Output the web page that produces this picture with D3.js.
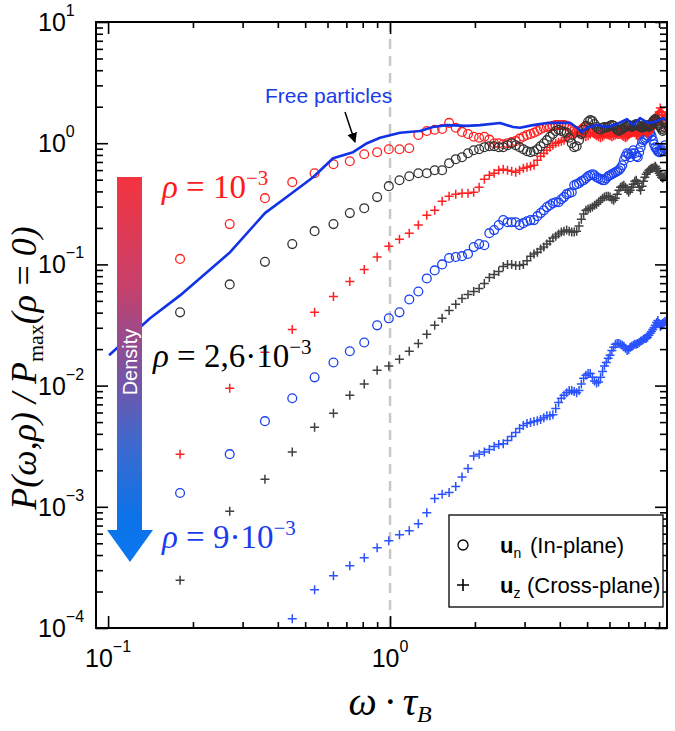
<!DOCTYPE html>
<html><head><meta charset="utf-8">
<script src="https://cdn.jsdelivr.net/npm/d3@7"></script>
<style>body{margin:0;background:#fff}</style>
</head><body>
<svg id="chart" width="675" height="731"></svg>
<script>
// ---------- data ----------
const omega = [0.18,0.27,0.36,0.45,0.54,0.63,0.72,0.81,0.90,0.99,1.08,1.17,1.26,1.35,1.44,1.53,1.62,1.71,1.80,1.89,1.98,2.07,2.16,2.25,2.34,2.43,2.52,2.61,2.70,2.79,2.88,2.97,3.06,3.15,3.24,3.33,3.42,3.51,3.60,3.69,3.78,3.87,3.96,4.05,4.14,4.23,4.32,4.41,4.50,4.59,4.68,4.77,4.86,4.95,5.04,5.13,5.22,5.31,5.40,5.49,5.58,5.67,5.76,5.85,5.94,6.03,6.12,6.21,6.30,6.39,6.48,6.57,6.66,6.75,6.84,6.93,7.02,7.11,7.20,7.29,7.38,7.47,7.56,7.65,7.74,7.83,7.92,8.01,8.10,8.19,8.28,8.37,8.46,8.55,8.64,8.73,8.82,8.91,9.00,9.09,9.18,9.27,9.36,9.45];

// rho = 1e-3, u_n (in-plane)
const redCircles = [0.111,0.215,0.352,0.477,0.565,0.671,0.710,0.811,0.843,0.892,
0.892,0.909,1.17,1.26,1.29,1.31,1.47,1.34,1.24,1.19,
1.13,1.11,1.13,1.07,1.00,1.00,0.981,1.00,1.02,1.04,
1.09,1.13,1.17,1.19,1.22,1.26,1.31,1.34,1.36,1.36,
1.39,1.41,1.41,1.41,1.41,1.39,1.36,1.31,1.26,1.24,
1.26,1.29,1.34,1.36,1.36,1.34,1.29,1.24,1.19,1.22,
1.24,1.26,1.24,1.22,1.19,1.22,1.24,1.26,1.24,1.22,
1.19,1.22,1.24,1.26,1.29,1.26,1.24,1.22,1.24,1.26,
1.29,1.26,1.24,1.26,1.29,1.31,1.34,1.31,1.29,1.26,
1.29,1.34,1.39,1.44,1.50,1.52,1.55,1.61,1.68,1.74,
1.68,1.58,1.52,1.47];
// rho = 2.6e-3, u_n
const blackCircles = [0.0402,0.0684,0.105,0.147,0.188,0.215,0.265,0.291,0.359,0.442,
0.495,0.534,0.565,0.565,0.598,0.598,0.684,0.738,0.766,0.827,
0.875,0.892,0.927,0.945,0.945,0.927,0.927,0.963,1.00,0.963,
0.927,0.892,0.859,0.843,0.859,0.892,0.945,1.00,1.06,1.13,
1.19,1.26,1.29,1.26,1.24,1.22,1.11,1.00,0.927,0.945,
1.06,1.19,1.29,1.39,1.50,1.55,1.52,1.44,1.36,1.31,
1.29,1.34,1.36,1.34,1.36,1.39,1.41,1.39,1.34,1.29,
1.26,1.29,1.31,1.34,1.36,1.39,1.41,1.39,1.36,1.39,
1.41,1.44,1.41,1.39,1.36,1.34,1.36,1.39,1.41,1.39,
1.36,1.39,1.44,1.50,1.55,1.58,1.52,1.47,1.41,1.36,
1.31,1.26,1.29,1.34];
// rho = 9e-3, u_n
const blueCircles = [0.00130,0.00272,0.00509,0.00787,0.0117,0.0155,0.0192,0.0227,0.0314,0.0359,
0.0402,0.0514,0.0598,0.0766,0.0892,0.100,0.113,0.115,0.117,0.122,
0.139,0.147,0.144,0.181,0.192,0.211,0.232,0.223,0.223,0.223,
0.211,0.219,0.227,0.232,0.232,0.250,0.265,0.280,0.297,0.308,
0.320,0.326,0.326,0.345,0.359,0.380,0.387,0.394,0.450,0.459,
0.468,0.486,0.495,0.514,0.534,0.544,0.555,0.544,0.524,0.514,
0.505,0.495,0.495,0.514,0.534,0.544,0.555,0.565,0.576,0.587,
0.598,0.622,0.658,0.724,0.781,0.827,0.811,0.766,0.827,0.875,
0.827,0.781,0.766,0.843,0.927,1.02,1.06,1.09,1.11,1.15,
1.22,1.22,1.15,1.06,0.981,0.927,0.892,0.859,0.843,0.843,
0.859,0.875,0.909,0.963];
// rho = 1e-3, u_z (cross-plane)
const redPlus = [0.00272,0.00952,0.0188,0.0291,0.0402,0.0544,0.0724,0.0909,0.115,0.141,
0.161,0.181,0.211,0.255,0.280,0.332,0.365,0.380,0.387,0.387,
0.394,0.434,0.505,0.544,0.565,0.598,0.610,0.598,0.587,0.576,
0.598,0.622,0.634,0.646,0.658,0.724,0.781,0.827,0.875,0.927,
0.963,1.00,1.02,1.04,1.06,1.11,1.15,1.17,1.19,1.22,
1.19,1.17,1.15,1.13,1.15,1.19,1.22,1.19,1.15,1.13,
1.11,1.13,1.17,1.19,1.17,1.15,1.13,1.15,1.17,1.19,
1.22,1.19,1.15,1.13,1.11,1.13,1.17,1.22,1.24,1.26,
1.22,1.17,1.15,1.19,1.24,1.29,1.31,1.26,1.22,1.19,
1.24,1.34,1.44,1.55,1.61,1.52,1.41,1.61,1.81,1.95,
1.81,1.61,1.44,1.34];
// rho = 2.6e-3, u_z
const blackPlus = [0.000248,0.000918,0.00169,0.00283,0.00454,0.00592,0.00833,0.0103,0.0134,0.0145,
0.0165,0.0192,0.0223,0.0265,0.0314,0.0359,0.0417,0.0468,0.0524,0.0565,
0.0598,0.0634,0.0697,0.0781,0.0827,0.0875,0.0963,0.100,0.100,0.0981,
0.0981,0.100,0.107,0.117,0.122,0.126,0.134,0.139,0.147,0.155,
0.165,0.171,0.178,0.185,0.188,0.192,0.188,0.185,0.185,0.188,
0.207,0.236,0.260,0.280,0.286,0.291,0.297,0.308,0.314,0.326,
0.339,0.352,0.359,0.365,0.365,0.359,0.345,0.339,0.352,0.380,
0.410,0.434,0.442,0.450,0.434,0.410,0.394,0.410,0.434,0.459,
0.486,0.495,0.468,0.434,0.410,0.442,0.486,0.524,0.555,0.576,
0.598,0.610,0.622,0.622,0.634,0.646,0.622,0.587,0.565,0.544,
0.524,0.514,0.524,0.534];
// rho = 9e-3, u_z
const bluePlus = [null,null,null,0.000119,0.000207,0.000270,0.000326,0.000380,0.000459,0.000524,
0.000587,0.000634,0.000724,0.000892,0.00117,0.00127,0.00131,0.00147,0.00176,0.00207,
0.00262,0.00272,0.00283,0.00297,0.00314,0.00326,0.00332,0.00352,0.00380,0.00410,
0.00442,0.00468,0.00486,0.00495,0.00505,0.00514,0.00524,0.00544,0.00565,0.00565,
0.00576,0.00646,0.00724,0.00787,0.00833,0.00875,0.00909,0.00909,0.00892,0.00875,
0.00909,0.0103,0.0115,0.0122,0.0126,0.0126,0.0117,0.0109,0.0105,0.0107,
0.0117,0.0131,0.0145,0.0155,0.0168,0.0178,0.0195,0.0207,0.0219,0.0223,
0.0223,0.0219,0.0215,0.0211,0.0203,0.0195,0.0199,0.0207,0.0211,0.0215,
0.0219,0.0219,0.0223,0.0227,0.0232,0.0236,0.0241,0.0245,0.0245,0.0250,
0.0260,0.0270,0.0280,0.0291,0.0302,0.0314,0.0332,0.0345,0.0326,0.0308,
0.0314,0.0326,0.0332,0.0339];

// free particles (solid line)
const freeOmega = [0.1008,0.1409,0.180,0.2709,0.360,0.4529,0.5333,0.628,0.7393,0.8288,0.9216,1.085,1.278,1.420,1.592,1.875,2.085,2.455,2.731,2.891,3.215,3.604,4.348,4.604,4.796,4.996,5.420,5.883,6.383,6.925,7.272,7.701,8.220,8.706,9.292,9.600];
const freeP = [0.0178,0.0359,0.0555,0.126,0.265,0.394,0.524,0.752,0.843,1.00,1.11,1.22,1.26,1.36,1.41,1.39,1.41,1.47,1.36,1.34,1.41,1.47,1.47,1.34,1.24,1.34,1.41,1.36,1.44,1.58,1.41,1.61,1.47,1.50,1.61,1.52];

const xMajorTicks = [0.1, 1];
const xTickLabels = [["10","\u22121"],["10","0"]];
const yMajorTicks = [1e-4,1e-3,1e-2,1e-1,1,10];
const yTickLabels = [["10","\u22124"],["10","\u22123"],["10","\u22122"],["10","\u22121"],["10","0"],["10","1"]];
const legendItems = ["n","z"];
const legendTexts = ["(In-plane)","(Cross-plane)"];

// ---------- layout ----------
const P = {l:96, r:667, t:22, b:628};
const x = d3.scaleLog().domain([0.0906, 9.6]).range([P.l, P.r]);
const y = d3.scaleLog().domain([1e-4, 10]).range([P.b, P.t]);
const svg = d3.select("#chart");
const SANS = "'Liberation Sans', Arial, Helvetica, sans-serif";
const SERIF = "'Liberation Serif', 'Times New Roman', Times, serif";

const defs = svg.append("defs");
defs.append("clipPath").attr("id","clip").append("rect")
  .attr("x",P.l).attr("y",P.t).attr("width",P.r-P.l).attr("height",P.b-P.t);
const grad = defs.append("linearGradient").attr("id","dens")
  .attr("gradientUnits","userSpaceOnUse").attr("x1",0).attr("x2",0).attr("y1",177).attr("y2",562);
[[0,"#f4343f"],[0.28,"#c8406a"],[0.5,"#7d52a0"],[0.7,"#3c6ad0"],[0.88,"#0c72e8"],[1,"#0a78f0"]]
  .forEach(([o,c])=>grad.append("stop").attr("offset",o).attr("stop-color",c));
defs.append("marker").attr("id","ah").attr("viewBox","0 0 10 10").attr("refX",9).attr("refY",5)
  .attr("orient","auto-start-reverse")
  .attr("markerUnits","userSpaceOnUse").attr("markerWidth",10).attr("markerHeight",12)
  .append("path").attr("d","M0,0L10,5L0,10Z").attr("fill","#000");

// dashed line at omega*tau = 1
svg.append("line").attr("x1",x(1)).attr("x2",x(1)).attr("y1",P.t).attr("y2",P.b)
  .attr("stroke","#c8c8c8").attr("stroke-width",2.5).attr("stroke-dasharray","10,7");

// ---------- data marks ----------
const plot = svg.append("g").attr("clip-path","url(#clip)");
function pts(vals){ return omega.map((w,i)=>({w, v:vals[i]})).filter(d=>d.v!=null); }
function plus(vals,color){
  plot.append("g").selectAll("path").data(pts(vals)).join("path")
    .attr("d",d=>`M${x(d.w)-4.5},${y(d.v)}h9M${x(d.w)},${y(d.v)-4.5}v9`)
    .attr("stroke",color).attr("stroke-width",1.5).attr("fill","none");
}
function circ(vals,color){
  plot.append("g").selectAll("circle").data(pts(vals)).join("circle")
    .attr("cx",d=>x(d.w)).attr("cy",d=>y(d.v)).attr("r",4.4)
    .attr("fill","none").attr("stroke",color).attr("stroke-width",1.3);
}
plus(bluePlus,"#2a52ff");
plus(blackPlus,"#404040");
circ(blueCircles,"#1a40f0");
plus(redPlus,"#ff2222");
circ(redCircles,"#ff2020");
circ(blackCircles,"#333333");

plot.append("path").datum(freeOmega.map((w,i)=>[w,freeP[i]]))
  .attr("d",d3.line().x(d=>x(d[0])).y(d=>y(d[1])))
  .attr("fill","none").attr("stroke","#1232e6").attr("stroke-width",2.6).attr("stroke-linejoin","round");

// ---------- axes ----------
const xMinor = [], yMinor = [];
[0.1,1].forEach(d=>{for(let m=2;m<=9;m++) xMinor.push(m*d);});
[1e-4,1e-3,1e-2,1e-1,1].forEach(d=>{for(let m=2;m<=9;m++) yMinor.push(m*d);});
function styleAxis(g){ g.select(".domain").remove(); g.selectAll("line").attr("stroke","#000").attr("stroke-width",1.6); g.selectAll("text").remove(); }
svg.append("g").attr("transform",`translate(0,${P.b})`).call(d3.axisBottom(x).tickValues(xMajorTicks).tickSize(-12)).call(styleAxis);
svg.append("g").attr("transform",`translate(0,${P.b})`).call(d3.axisBottom(x).tickValues(xMinor).tickSize(-6)).call(styleAxis);
svg.append("g").attr("transform",`translate(0,${P.t})`).call(d3.axisTop(x).tickValues(xMajorTicks).tickSize(-12)).call(styleAxis);
svg.append("g").attr("transform",`translate(0,${P.t})`).call(d3.axisTop(x).tickValues(xMinor).tickSize(-6)).call(styleAxis);
svg.append("g").attr("transform",`translate(${P.l},0)`).call(d3.axisLeft(y).tickValues(yMajorTicks).tickSize(-12)).call(styleAxis);
svg.append("g").attr("transform",`translate(${P.l},0)`).call(d3.axisLeft(y).tickValues(yMinor).tickSize(-7)).call(styleAxis);
svg.append("g").attr("transform",`translate(${P.r},0)`).call(d3.axisRight(y).tickValues(yMajorTicks).tickSize(-12)).call(styleAxis);
svg.append("g").attr("transform",`translate(${P.r},0)`).call(d3.axisRight(y).tickValues(yMinor).tickSize(-7)).call(styleAxis);
svg.append("rect").attr("x",P.l).attr("y",P.t).attr("width",P.r-P.l).attr("height",P.b-P.t)
  .attr("fill","none").attr("stroke","#000").attr("stroke-width",2);

// tick labels
xMajorTicks.forEach((v,i)=>{
  const t = svg.append("text").attr("x",x(v)).attr("y",667).attr("text-anchor","middle")
    .attr("font-family",SANS).attr("font-size",25).attr("fill","#000");
  t.append("tspan").text(xTickLabels[i][0]);
  t.append("tspan").attr("font-size",16).attr("dy",-15).text(xTickLabels[i][1]);
});
yMajorTicks.forEach((v,i)=>{
  const t = svg.append("text").attr("x",38).attr("y",y(v)+9).attr("text-anchor","start")
    .attr("font-family",SANS).attr("font-size",25).attr("fill","#000");
  t.append("tspan").text(yTickLabels[i][0]);
  t.append("tspan").attr("font-size",16).attr("dy",-15).text(yTickLabels[i][1]);
});

// axis titles
const xt = svg.append("text").attr("x",x(1)).attr("y",715).attr("text-anchor","middle")
  .attr("font-family",SERIF).attr("font-style","italic").attr("font-size",40).attr("fill","#000");
xt.append("tspan").text("\u03c9\u2009\u00b7\u2009\u03c4");
xt.append("tspan").attr("font-size",24).attr("dy",7).text("B");

const yt = svg.append("text").attr("transform","translate(36,368) rotate(-90)").attr("text-anchor","middle")
  .attr("font-family",SERIF).attr("font-style","italic").attr("font-size",36).attr("fill","#000");
yt.append("tspan").text("P(\u03c9,\u03c1) / P");
yt.append("tspan").attr("font-size",22).attr("font-style","normal").attr("dy",7).text("max");
yt.append("tspan").attr("dy",-7).text("(\u03c1\u2009=\u20090)");

// ---------- annotations ----------
svg.append("path").attr("d","M117,177H142V530H153L130,562L107,530H117Z").attr("fill","url(#dens)");
svg.append("text").attr("transform","translate(137,362) rotate(-90)").attr("text-anchor","middle")
  .attr("font-family",SANS).attr("font-size",20).attr("fill","#fff").text("Density");

function rhoLabel(xp, yp, color, mid){
  const t = svg.append("text").attr("x",xp).attr("y",yp).attr("font-family",SERIF)
    .attr("font-size",33).attr("fill",color);
  t.append("tspan").attr("font-style","italic").text("\u03c1");
  t.append("tspan").text(" = " + mid + "10");
  t.append("tspan").attr("font-size",21).attr("dy",-13).text("\u22123");
}
rhoLabel(162,198,"#ff1a1a","");
rhoLabel(153,367,"#000","2,6\u00b7");
rhoLabel(162,548,"#1a3cf0","9\u00b7");

svg.append("text").attr("x",265).attr("y",103).attr("font-family",SANS).attr("font-size",21)
  .attr("fill","#1a3ce6").text("Free particles");
svg.append("line").attr("x1",345).attr("y1",112).attr("x2",355).attr("y2",142)
  .attr("stroke","#000").attr("stroke-width",1.5).attr("marker-end","url(#ah)");

// ---------- legend ----------
const lg = svg.append("g");
lg.append("rect").attr("x",449).attr("y",515).attr("width",214).attr("height",92)
  .attr("fill","#fff").attr("stroke","#000").attr("stroke-width",1.3);
lg.append("circle").attr("cx",463).attr("cy",545).attr("r",5).attr("fill","none").attr("stroke","#000").attr("stroke-width",1.3);
lg.append("path").attr("d","M457,585h12M463,579v12").attr("stroke","#000").attr("stroke-width",1.6);
legendItems.forEach((s,i)=>{
  const by = 553 + i*40;
  const t = lg.append("text").attr("x",500).attr("y",by).attr("font-family",SANS).attr("font-size",22).attr("fill","#000");
  t.append("tspan").attr("font-weight","bold").text("u");
  t.append("tspan").attr("font-size",14).attr("dy",5).text(s);
  lg.append("text").attr("x", i===0 ? 530 : 527).attr("y",by).attr("font-family",SANS).attr("font-size",22)
    .attr("fill","#000").text(legendTexts[i]);
});
</script>
</body></html>
